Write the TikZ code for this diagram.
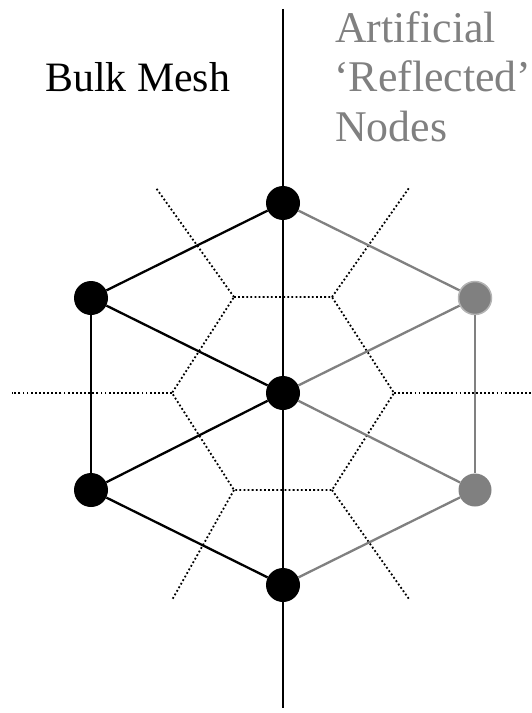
\documentclass[tikz,border=0pt]{standalone}
\usepackage{fontspec}
\setmainfont{Liberation Serif}
\definecolor{reflgray}{HTML}{808080}
\definecolor{ringgray}{HTML}{B4B4B4}
\begin{document}
\begin{tikzpicture}[x=1bp,y=-1bp,
  bulk/.style={circle,fill=black,minimum size=34bp,inner sep=0pt},
  refl/.style={circle,fill=reflgray,minimum size=33bp,inner sep=0pt},
  meshline/.style={line width=2.3bp,black},
  refline/.style={line width=2.3bp,reflgray},
  cellline/.style={line width=1.8bp,dash pattern=on 1.8bp off 2.3bp},
  lbl/.style={anchor=base west,inner sep=0pt,font=\fontsize{42}{50}\selectfont},
  graylbl/.style={lbl,text=reflgray,font=\fontsize{44}{50}\selectfont}]
\useasboundingbox (0,0) rectangle (532,713);

% Voronoi-type control volume around the centre node
\draw[cellline] (234,297) -- (332,297) -- (394,393) -- (332,490) -- (234,490) -- (172,393) -- cycle;
\draw[cellline] (172,393) -- (12,393);
\draw[cellline] (394,393) -- (532,393);
\draw[cellline] (234,297) -- (156,188);
\draw[cellline] (332,297) -- (409,188);
\draw[cellline] (234,490) -- (172,600);
\draw[cellline] (332,490) -- (409,599);

% mesh nodes
\node[bulk] (T) at (283,203) {};
\node[bulk] (C) at (283,393) {};
\node[bulk] (B) at (283,585) {};
\node[bulk] (L1) at (91,298) {};
\node[bulk] (L2) at (91,490) {};
\node[refl,draw=ringgray,line width=1.5bp] (R1) at (475,298) {};
\node[refl] (R2) at (475,490) {};
\coordinate (top) at (283,9);
\coordinate (bot) at (283,708);

% symmetry boundary
\draw[meshline] (top) -- (T) -- (C) -- (B) -- (bot);

% bulk triangulation
\draw[meshline] (T) -- (L1) -- (C) -- (L2) -- (B);
\draw[meshline] (L1) -- (L2);

% reflected triangulation
\draw[refline] (T) -- (R1) -- (C) -- (R2) -- (B);
\draw[refline] (R1) -- (R2);

% labels
\node[lbl] (bulklbl) at (45,92) {Bulk Mesh};
\node[graylbl] (art1) at (335,43) {Artificial};
\node[graylbl] (art2) at (334,92) {‘Reflected’};
\node[graylbl] (art3) at (335,142) {Nodes};
\end{tikzpicture}
\end{document}
